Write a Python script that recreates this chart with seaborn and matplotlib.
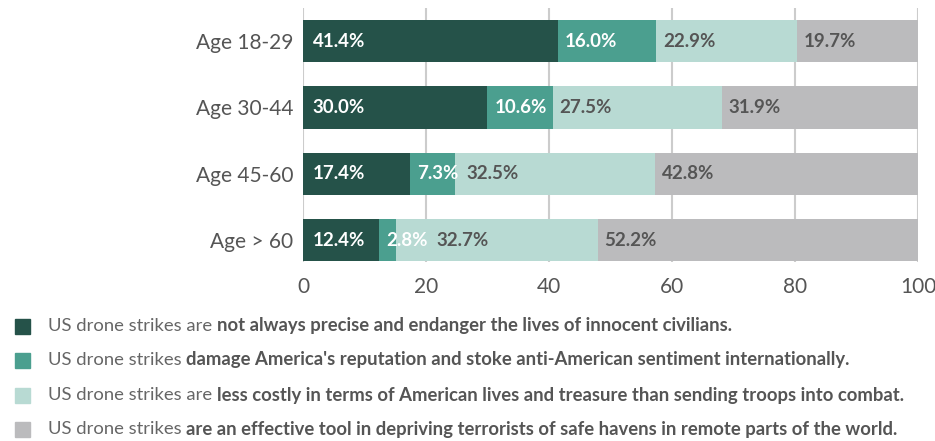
import matplotlib
matplotlib.use("Agg")
import matplotlib.pyplot as plt
import matplotlib.patches as mpatches
import seaborn as sns
import pandas as pd
import numpy as np

ages = ["Age 18-29", "Age 30-44", "Age 45-60", "Age > 60"]
not_precise = [41.4, 30.0, 17.4, 12.4]
reputation = [16.0, 10.6, 7.3, 2.8]
less_costly = [22.9, 27.5, 32.5, 32.7]
effective = [19.7, 31.9, 42.8, 52.2]

series = [not_precise, reputation, less_costly, effective]
colors = ["#255249", "#4b9f8f", "#b8dad3", "#bbbbbd"]
label_colors = ["white", "white", "#555555", "#555555"]
legend_regular = ["US drone strikes are ", "US drone strikes ", "US drone strikes are ", "US drone strikes "]
legend_bold = [
    "not always precise and endanger the lives of innocent civilians.",
    "damage America's reputation and stoke anti-American sentiment internationally.",
    "less costly in terms of American lives and treasure than sending troops into combat.",
    "are an effective tool in depriving terrorists of safe havens in remote parts of the world.",
]
xticks = [0, 20, 40, 60, 80, 100]

sns.set_theme(style="white")
plt.rcParams["font.family"] = ["Lato", "DejaVu Sans"]

W, H = 935, 441
fig = plt.figure(figsize=(W / 100, H / 100), dpi=100)
ax = fig.add_axes([303 / W, 1 - 262 / H, (918 - 303) / W, (262 - 8) / H])

ax.set_axisbelow(True)
for xt in xticks:
    ax.axvline(xt, color="#cccccc", lw=1.5, zorder=0)

df = pd.DataFrame({"age": ages})
cums = np.cumsum(np.array(series), axis=0)
for i in reversed(range(len(series))):
    df["cum"] = cums[i]
    sns.barplot(data=df, x="cum", y="age", orient="h", color=colors[i],
                saturation=1, width=0.64, ax=ax, zorder=2, linewidth=0)

ax.set_xlim(0, 100)
ax.set_ylim(3.33, -0.5)
ax.set_xticks(xticks)
ax.set_xlabel("")
ax.set_ylabel("")
for s in ax.spines.values():
    s.set_visible(False)
ax.tick_params(axis="both", length=0, labelsize=15, colors="#555555")
ax.tick_params(axis="y", pad=7)
ax.tick_params(axis="x", pad=11)

fig.canvas.draw()
renderer = fig.canvas.get_renderer()
inv = ax.transData.inverted()
for r in range(len(ages)):
    prev_end = -1e9
    for i in range(len(series)):
        start = cums[i - 1][r] if i > 0 else 0.0
        x = start + (1.6 if i == 0 else 1.1)
        x = max(x, prev_end + 1.4)
        t = ax.text(x, r, f"{series[i][r]:.1f}%", ha="left", va="center",
                    fontsize=13.5, fontweight="bold", color=label_colors[i], zorder=5)
        bb = t.get_window_extent(renderer)
        prev_end = inv.transform((bb.x1, bb.y0))[0]

rows_y = [326, 360, 395, 429]
for i, yy in enumerate(rows_y):
    fy = 1 - yy / H
    fig.patches.append(mpatches.Rectangle((15 / W, fy - 7.5 / H), 15 / W, 15 / H,
                                          transform=fig.transFigure, color=colors[i]))
    t = fig.text(48 / W, fy, legend_regular[i], fontsize=13.3, color="#666666", va="center", ha="left")
    bb = t.get_window_extent(renderer)
    fig.text(bb.x1 / W, fy, legend_bold[i], fontsize=13.3, fontweight="bold",
             color="#555555", va="center", ha="left")

fig.savefig("out.png", dpi=100)
